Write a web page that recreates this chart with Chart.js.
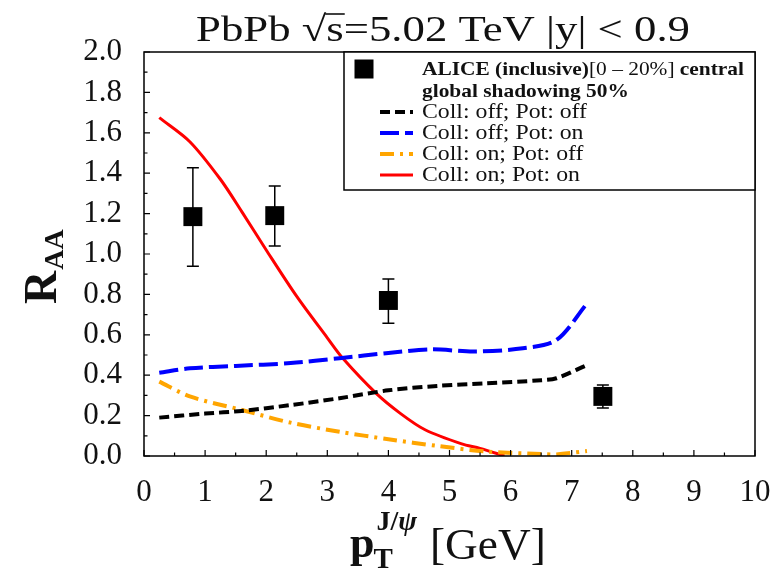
<!DOCTYPE html>
<html><head><meta charset="utf-8">
<script src="https://cdn.jsdelivr.net/npm/chart.js@4.4.1/dist/chart.umd.min.js"></script>
<style>html,body{margin:0;padding:0;background:#fff;}#wrap{width:776px;height:576px;}</style>
</head><body><div id="wrap"><canvas id="c" width="776" height="576"></canvas></div>
<script>
// ---- data ----
const xTickValues = [0,1,2,3,4,5,6,7,8,9,10];
const yTickValues = [0.0,0.2,0.4,0.6,0.8,1.0,1.2,1.4,1.6,1.8,2.0];

const aliceX = [0.80, 2.14, 4.00, 7.51];
const aliceY = [1.185, 1.19, 0.77, 0.295];
const aliceErrHigh = [1.427, 1.337, 0.876, 0.351];
const aliceErrLow  = [0.939, 1.04, 0.657, 0.238];

const offOffX = [0.25,1.0,1.6,2.4,3.2,4.0,4.8,5.6,6.5,6.75,7.25];
const offOffY = [0.19,0.21,0.223,0.252,0.286,0.325,0.347,0.36,0.375,0.385,0.45];
const offOnX  = [0.25,0.75,1.5,2.4,3.2,4.0,4.7,5.4,6.2,6.75,7.25];
const offOnY  = [0.412,0.434,0.446,0.46,0.484,0.51,0.528,0.517,0.533,0.574,0.755];
const onOffX  = [0.25,0.75,1.6,2.4,3.2,4.0,4.8,5.6,6.5,6.75,7.25];
const onOffY  = [0.368,0.295,0.228,0.165,0.12,0.083,0.05,0.022,0.01,0.008,0.025];
const onOnX   = [0.25,0.75,1.25,1.6,2.0,2.5,3.0,3.25,3.8,4.2,4.6,5.2,5.5,5.9];
const onOnY   = [1.675,1.556,1.37,1.21,1.02,0.79,0.585,0.485,0.31,0.21,0.13,0.06,0.038,0.0];

const legendHeader = [{t:'ALICE (inclusive)', b:true},{t:'[0 \u2013 20%]', b:false},{t:' central', b:true}];
const legendSub = 'global shadowing 50%';
const seriesLabels = ['Coll: off; Pot: off','Coll: off; Pot: on','Coll: on; Pot: off','Coll: on; Pot: on'];

// ---- helpers ----
const SERIF = '"Liberation Serif", "DejaVu Serif", serif';
const TXT = '#111';
const zip = (xs, ys) => xs.map((x,i)=>({x, y:ys[i]}));

// draw text horizontally stretched by factor sx, starting at x
function wideText(ctx, text, x, y, sx){
  ctx.save();
  ctx.translate(x, y); ctx.scale(sx, 1);
  ctx.fillText(text, 0, 0);
  ctx.restore();
  return ctx.measureText(text).width * sx;
}

const extras = {
  id:'extras',
  afterDatasetsDraw(chart){
    const {ctx, scales:{x,y}} = chart;
    ctx.save();
    ctx.strokeStyle = '#000'; ctx.lineWidth = 1.5;
    aliceX.forEach((v,i)=>{
      const px = x.getPixelForValue(v);
      const pt = y.getPixelForValue(aliceErrHigh[i]);
      const pb = y.getPixelForValue(aliceErrLow[i]);
      ctx.beginPath();
      ctx.moveTo(px,pt); ctx.lineTo(px,pb);
      ctx.moveTo(px-6,pt); ctx.lineTo(px+6,pt);
      ctx.moveTo(px-6,pb); ctx.lineTo(px+6,pb);
      ctx.stroke();
    });
    ctx.restore();
  },
  afterDraw(chart){
    const {ctx, chartArea:a, scales:{x,y}} = chart;
    ctx.save();
    // frame
    ctx.strokeStyle = '#000'; ctx.lineWidth = 1.5;
    ctx.strokeRect(a.left, a.top, a.right-a.left, a.bottom-a.top);
    // inward ticks
    ctx.lineWidth = 1.2;
    ctx.beginPath();
    for (let k=0;k<=20;k++){
      const v = k*0.5; const px = x.getPixelForValue(v); const L = (k%2===0)?6:3.5;
      ctx.moveTo(px,a.bottom); ctx.lineTo(px,a.bottom-L);
    }
    for (let k=0;k<=20;k++){
      const v = k*0.1; const py = y.getPixelForValue(v); const L = (k%2===0)?6:3.5;
      ctx.moveTo(a.left,py); ctx.lineTo(a.left+L,py);
    }
    ctx.stroke();

    // legend box
    const lx = 344, ly = a.top, lw = a.right - 344, lh = 138;
    ctx.fillStyle = '#fff';
    ctx.fillRect(lx,ly,lw,lh);
    ctx.lineWidth = 1.5; ctx.strokeStyle='#000';
    ctx.strokeRect(lx,ly,lw,lh);
    ctx.textBaseline = 'middle'; ctx.textAlign='left';
    ctx.fillStyle = '#000';
    ctx.fillRect(364-9.5, 69-9.5, 19, 19);
    ctx.fillStyle = TXT;
    // header: stretch to reference width
    let hw = 0;
    legendHeader.forEach(p=>{ ctx.font = (p.b?'bold ':'') + '19px ' + SERIF; hw += ctx.measureText(p.t).width; });
    const hs = 322 / hw;
    let tx = 422;
    legendHeader.forEach(p=>{
      ctx.font = (p.b?'bold ':'') + '19px ' + SERIF;
      tx += wideText(ctx, p.t, tx, 70, hs);
    });
    ctx.font = 'bold 19px ' + SERIF;
    wideText(ctx, legendSub, 422, 92, hs);
    const ds = chart.data.datasets;
    const rowsY = [112,133,154,175];
    ctx.font = '20px ' + SERIF;
    const rs = 165 / ctx.measureText(seriesLabels[0]).width;
    for (let i=0;i<4;i++){
      const d = ds[i+1];
      ctx.save();
      ctx.strokeStyle = d.borderColor; ctx.lineWidth = d.borderWidth;
      ctx.setLineDash(d.borderDash||[]);
      ctx.beginPath(); ctx.moveTo(380,rowsY[i]); ctx.lineTo(413,rowsY[i]); ctx.stroke();
      ctx.restore();
      ctx.font = '20px ' + SERIF; ctx.fillStyle = TXT;
      wideText(ctx, d.label, 422, rowsY[i]+1, rs);
    }

    // title
    ctx.textBaseline = 'alphabetic';
    ctx.font = '36px ' + SERIF;
    const parts = ['PbPb ', '\u221A', 's', '=5.02 TeV |y| < 0.9'];
    const raw = parts.reduce((s,p)=>s+ctx.measureText(p).width, 0);
    const ts = 494 / raw;
    let x0 = 443 - 247; const by = 41;
    x0 += wideText(ctx, parts[0], x0, by, ts);
    x0 += wideText(ctx, parts[1], x0, by, ts);
    const sw = wideText(ctx, parts[2], x0, by, ts);
    ctx.lineWidth = 1.5; ctx.beginPath(); ctx.moveTo(x0-1, by-27); ctx.lineTo(x0+sw+1, by-27); ctx.stroke();
    x0 += sw;
    wideText(ctx, parts[3], x0, by, ts);

    // x-axis title
    ctx.font = 'bold 44px ' + SERIF;
    ctx.fillText('p', 350, 557);
    const pw = ctx.measureText('p').width;
    ctx.font = 'bold 29px ' + SERIF;
    ctx.fillText('T', 349+pw, 568);
    ctx.font = 'bold 28px ' + SERIF;
    ctx.fillText('J/', 352+pw, 530);
    const jw = ctx.measureText('J/').width;
    ctx.font = 'italic bold 28px ' + SERIF;
    ctx.fillText('\u03C8', 352+pw+jw, 530);
    ctx.font = '44px ' + SERIF;
    wideText(ctx, '[GeV]', 430, 559, 1.03);

    // y-axis title
    ctx.save();
    ctx.translate(56, 304); ctx.rotate(-Math.PI/2);
    ctx.font = 'bold 46px ' + SERIF;
    ctx.fillText('R', 0, 0);
    const rw = ctx.measureText('R').width;
    ctx.font = 'bold 28px ' + SERIF;
    ctx.fillText('AA', rw+1, 7);
    ctx.restore();

    ctx.restore();
  }
};

new Chart(document.getElementById('c'), {
  type:'scatter',
  data:{ datasets:[
    {label:'ALICE', data:zip(aliceX,aliceY), pointStyle:'rect', pointRadius:13.4, pointHoverRadius:13.4,
     backgroundColor:'#000', borderColor:'#000', borderWidth:0, showLine:false},
    {label:seriesLabels[0], data:zip(offOffX,offOffY), showLine:true, borderColor:'#000', borderWidth:4, borderDash:[10,5], pointRadius:0, tension:0.3},
    {label:seriesLabels[1], data:zip(offOnX,offOnY), showLine:true, borderColor:'#0000ff', borderWidth:4, borderDash:[19,6], pointRadius:0, tension:0.3},
    {label:seriesLabels[2], data:zip(onOffX,onOffY), showLine:true, borderColor:'#ffa500', borderWidth:4, borderDash:[14,6,3,6], pointRadius:0, tension:0.3},
    {label:seriesLabels[3], data:zip(onOnX,onOnY), showLine:true, borderColor:'#ff0000', borderWidth:3, pointRadius:0, tension:0.3}
  ]},
  options:{
    responsive:false, animation:false, events:[],
    layout:{padding:{left:0,right:21,top:52,bottom:0}},
    plugins:{legend:{display:false}, tooltip:{enabled:false}, title:{display:false}},
    scales:{
      x:{type:'linear', min:0, max:10,
         grid:{display:false, drawTicks:false}, border:{display:false},
         afterBuildTicks(s){ s.ticks = xTickValues.map(v=>({value:v})); },
         ticks:{font:{family:SERIF, size:31}, color:TXT, padding:18, maxRotation:0, autoSkip:false,
                callback:v=>String(v)},
         afterFit(s){ s.height = 120; s.paddingLeft = 0; s.paddingRight = 0; }},
      y:{type:'linear', min:0, max:2,
         grid:{display:false, drawTicks:false}, border:{display:false},
         afterBuildTicks(s){ s.ticks = yTickValues.map(v=>({value:v})); },
         ticks:{font:{family:SERIF, size:31}, color:TXT, padding:22, autoSkip:false,
                callback:v=>Number(v).toFixed(1)},
         afterFit(s){ s.width = 144; s.paddingTop = 0; s.paddingBottom = 0; }}
    }
  },
  plugins:[extras]
});
</script></body></html>
